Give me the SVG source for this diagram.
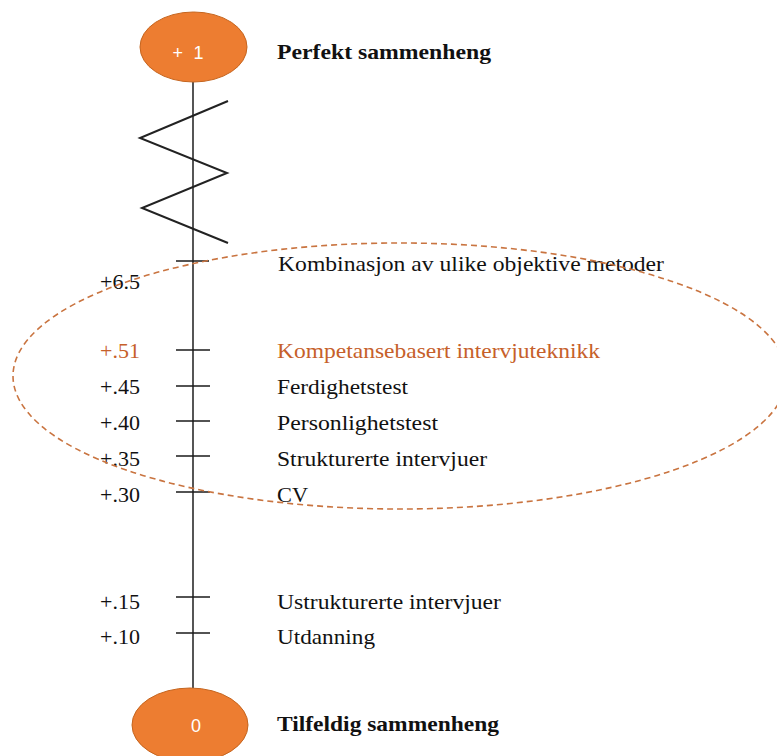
<svg xmlns="http://www.w3.org/2000/svg" width="777" height="756" viewBox="0 0 777 756">
<style>
.lbl{font-family:"Liberation Serif","Times New Roman",serif;font-size:22px;fill:#111}
.bold{font-weight:bold}
.org{fill:#C6602A}
.node{fill:#ED7D31;stroke:#C5651F;stroke-width:1}
.ntext{font-family:"Liberation Sans",Arial,sans-serif;font-size:18px;fill:#fff;text-anchor:middle}
.axis{stroke:#2b2b2b;stroke-width:1.6;fill:none}
.tick{stroke:#1a1a1a;stroke-width:1.6}
.zig{stroke:#222;stroke-width:2;fill:none;stroke-linejoin:miter}
.dash{fill:none;stroke:#C97440;stroke-width:1.6;stroke-dasharray:6 4}
</style>
<rect width="777" height="756" fill="#fff"/>
<g id="connectors">
  <line class="axis" x1="193" y1="82" x2="193" y2="688"/>
  <polyline class="zig" points="228,101 140,138 227,173 142,208 228,243"/>
  <line class="tick" x1="176" y1="261" x2="209" y2="261"/>
  <line class="tick" x1="176" y1="350" x2="210" y2="350"/>
  <line class="tick" x1="176" y1="386" x2="210" y2="386"/>
  <line class="tick" x1="176" y1="421" x2="210" y2="421"/>
  <line class="tick" x1="176" y1="456" x2="210" y2="456"/>
  <line class="tick" x1="176" y1="492" x2="210" y2="492"/>
  <line class="tick" x1="176" y1="597" x2="210" y2="597"/>
  <line class="tick" x1="176" y1="633" x2="210" y2="633"/>
</g>
<g id="node-top">
  <ellipse class="node" cx="193.5" cy="47" rx="53.5" ry="35"/>
  <text class="ntext" x="188" y="59" textLength="31" lengthAdjust="spacing">+ 1</text>
  <text class="lbl bold" x="277" y="59" textLength="214" lengthAdjust="spacingAndGlyphs">Perfekt sammenheng</text>
</g>
<g id="node-bottom">
  <ellipse class="node" cx="190" cy="725" rx="58" ry="37"/>
  <text class="ntext" x="196" y="732">0</text>
  <text class="lbl bold" x="277" y="731" textLength="222" lengthAdjust="spacingAndGlyphs">Tilfeldig sammenheng</text>
</g>
<g id="item-kombinasjon">
  <text class="lbl" x="100" y="289">+6.5</text>
  <text class="lbl" x="278" y="271" textLength="386" lengthAdjust="spacingAndGlyphs">Kombinasjon av ulike objektive metoder</text>
</g>
<g id="item-kompetanse">
  <text class="lbl org" x="100" y="358">+.51</text>
  <text class="lbl org" x="277" y="358" textLength="323" lengthAdjust="spacingAndGlyphs">Kompetansebasert intervjuteknikk</text>
</g>
<g id="item-ferdighet">
  <text class="lbl" x="100" y="394">+.45</text>
  <text class="lbl" x="277" y="394" textLength="131" lengthAdjust="spacingAndGlyphs">Ferdighetstest</text>
</g>
<g id="item-personlighet">
  <text class="lbl" x="100" y="430">+.40</text>
  <text class="lbl" x="277" y="430" textLength="161" lengthAdjust="spacingAndGlyphs">Personlighetstest</text>
</g>
<g id="item-strukturerte">
  <text class="lbl" x="100" y="466">+.35</text>
  <text class="lbl" x="277" y="466" textLength="210" lengthAdjust="spacingAndGlyphs">Strukturerte intervjuer</text>
</g>
<g id="item-cv">
  <text class="lbl" x="100" y="502">+.30</text>
  <text class="lbl" x="277" y="502" textLength="31" lengthAdjust="spacingAndGlyphs">CV</text>
</g>
<g id="item-ustrukturerte">
  <text class="lbl" x="100" y="609">+.15</text>
  <text class="lbl" x="277" y="609" textLength="224" lengthAdjust="spacingAndGlyphs">Ustrukturerte intervjuer</text>
</g>
<g id="item-utdanning">
  <text class="lbl" x="100" y="644">+.10</text>
  <text class="lbl" x="277" y="644" textLength="98" lengthAdjust="spacingAndGlyphs">Utdanning</text>
</g>
<g id="highlight">
  <ellipse class="dash" cx="400" cy="376" rx="387" ry="133"/>
</g>
</svg>
